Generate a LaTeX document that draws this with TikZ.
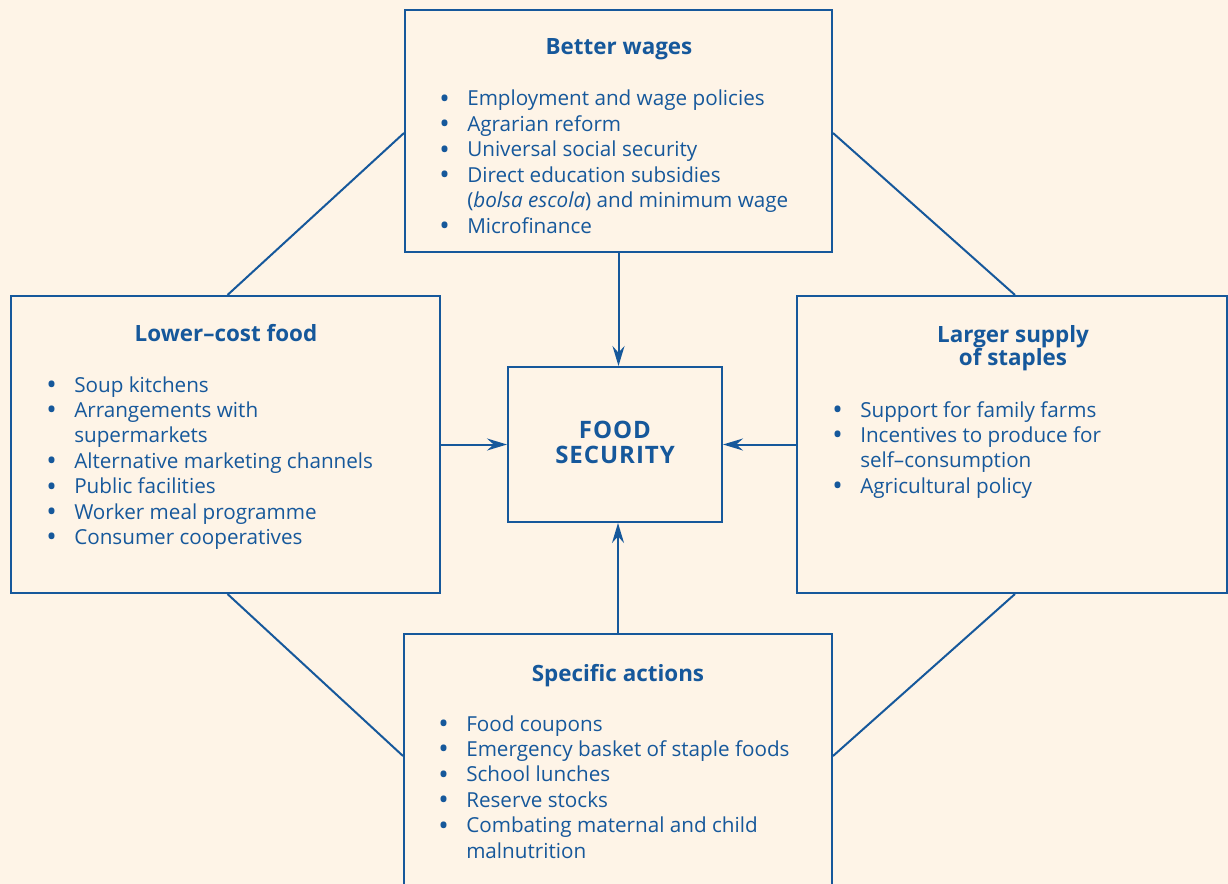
\documentclass[tikz,border=0pt]{standalone}
\usepackage{fontspec}
\usepackage{graphicx}
\setmainfont{Open Sans}
\usetikzlibrary{arrows.meta,fit}
\definecolor{fao}{RGB}{22,88,155}
\definecolor{bgcream}{RGB}{254,244,231}
\newcommand{\bodyfnt}{\fontsize{15.5}{19.1}\selectfont}
\newcommand{\headfnt}{\fontsize{16.8}{18}\selectfont\bfseries}
\newcommand{\fsfnt}{\fontsize{18}{18.75}\selectfont\bfseries\addfontfeatures{LetterSpace=4}}
\tikzset{
  box/.style={draw=fao, line width=1.5pt, inner sep=0pt},
  conn/.style={draw=fao, line width=1.5pt},
  arr/.style={draw=fao, line width=1.5pt, -{Stealth[length=15pt,width=9pt,inset=5pt]}},
  head/.style={text=fao, inner sep=0pt, anchor=base, font=\headfnt},
  list/.style={text=fao, inner sep=0pt, anchor=base west, font=\bodyfnt},
}
\newcommand{\bl}{\raisebox{-1.6pt}{\scalebox{1.35}{\textbullet}}}
\begin{document}
\begin{tikzpicture}[x=0.75pt,y=-0.75pt]
\path[use as bounding box, fill=bgcream] (0,0) rectangle (1228,884);
\clip (0,0) rectangle (1228,884);
% boxes
\node[box, fit={(405,10)(832,252)}] (bw) {};
\node[box, fit={(11,296)(440,593)}] (lc) {};
\node[box, fit={(797,296)(1227,593)}] (ls) {};
\node[box, fit={(404,634)(832,900)}] (sa) {};
\node[box, fit={(508,367)(722,522)}] (fs) {};
% headings
\node[head] (bwh) at (619,55) {Better wages};
\node[head] (lch) at (226,341) {Lower--cost food};
\node[head] (lsh) at (1013,343) {\begin{tabular}[t]{@{}c@{}}Larger supply\\[-1.3pt]of staples\end{tabular}};
\node[head] (sah) at (618,681) {Specific actions};
\node[text=fao, inner sep=0pt, anchor=base, font=\fsfnt] (fst) at (615,438)
  {\begin{tabular}[t]{@{}c@{}}FOOD\\SECURITY\end{tabular}};
% lists
\node[list] (bwl) at (439,106) {\begin{tabular}[t]{@{}p{21pt}@{}l@{}}
\bl & Employment and wage policies\\
\bl & Agrarian reform\\
\bl & Universal social security\\
\bl & Direct education subsidies\\
    & (\textit{bolsa escola}) and minimum wage\\
\bl & Microfinance
\end{tabular}};
\node[list] (lcl) at (46,392) {\begin{tabular}[t]{@{}p{21pt}@{}l@{}}
\bl & Soup kitchens\\
\bl & Arrangements with\\
    & supermarkets\\
\bl & Alternative marketing channels\\
\bl & Public facilities\\
\bl & Worker meal programme\\
\bl & Consumer cooperatives
\end{tabular}};
\node[list] (lsl) at (832,417) {\begin{tabular}[t]{@{}p{21pt}@{}l@{}}
\bl & Support for family farms\\
\bl & Incentives to produce for\\
    & self--consumption\\
\bl & Agricultural policy
\end{tabular}};
\node[list] (sal) at (438,731) {\begin{tabular}[t]{@{}p{21pt}@{}l@{}}
\bl & Food coupons\\
\bl & Emergency basket of staple foods\\
\bl & School lunches\\
\bl & Reserve stocks\\
\bl & Combating maternal and child\\
    & malnutrition
\end{tabular}};
% diagonal connectors
\draw[conn] ([yshift=-1.5pt]bw.west) -- ([xshift=1.5pt]lc.north);
\draw[conn] ([yshift=-1.5pt]bw.east) -- ([xshift=2.25pt]ls.north);
\draw[conn] ([xshift=1.5pt]lc.south) -- ([yshift=-92.25pt]sa.north west);
\draw[conn] ([xshift=2.25pt]ls.south) -- ([yshift=-92.25pt]sa.north east);
% arrows
\draw[arr] (bw.south) -- (bw.south |- fs.north);
\draw[arr] (sa.north) -- (sa.north |- fs.south);
\draw[arr] (lc.east) -- (fs.west |- lc.east);
\draw[arr] (ls.west) -- (fs.east |- ls.west);
\end{tikzpicture}
\end{document}
